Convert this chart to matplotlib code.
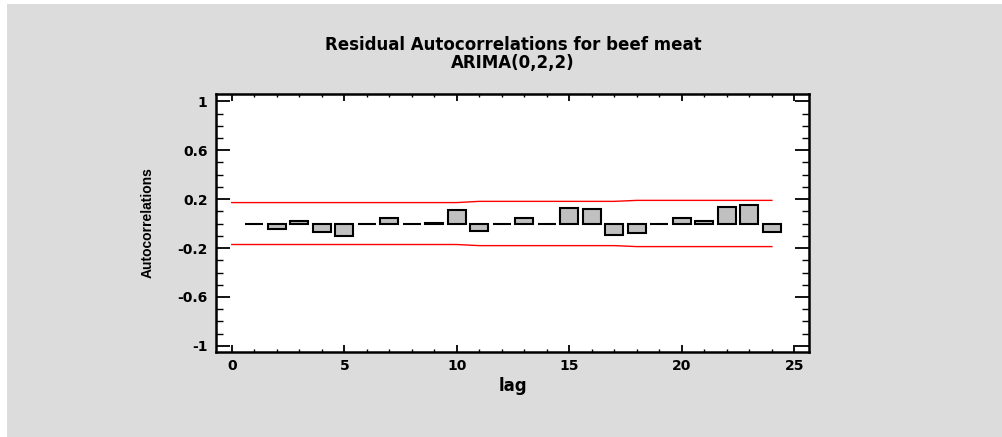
import matplotlib
matplotlib.use("Agg")
import matplotlib.pyplot as plt
from matplotlib.ticker import MultipleLocator, FixedLocator, FixedFormatter
from matplotlib.patches import Rectangle

plt.rcParams['font.family'] = ['DejaVu Sans']

lags = list(range(1, 25))
acf = [-0.003, -0.044, 0.025, -0.068, -0.104, -0.003, 0.044, -0.003, 0.008, 0.112,
       -0.063, -0.003, 0.043, -0.003, 0.128, 0.117, -0.096, -0.079, -0.003, 0.049,
       0.022, 0.137, 0.156, -0.071]
limit_lags = list(range(0, 25))
upper = [0.172] * 11 + [0.182] * 7 + [0.190] * 7
lower = [-0.171] * 11 + [-0.180] * 7 + [-0.188] * 7

ytick_vals = [-1, -0.6, -0.2, 0.2, 0.6, 1]
ytick_labels = ['-1', '-0.6', '-0.2', '0.2', '0.6', '1']
xtick_vals = [0, 5, 10, 15, 20, 25]

fig = plt.figure(figsize=(10.03, 4.37), dpi=100)
fig.patch.set_facecolor('white')
fig.patches.append(Rectangle((7 / 1003, 0), 996 / 1003, 433 / 437,
                             transform=fig.transFigure, facecolor='#DCDCDC',
                             edgecolor='none', zorder=-10))

ax = fig.add_axes([216 / 1003, 1 - 352 / 437, (809 - 216) / 1003, (352 - 94) / 437])
ax.set_facecolor('white')

ax.bar(lags, acf, width=0.8, color='#C0C0C0', edgecolor='black', linewidth=1.5, zorder=3)
ax.plot(limit_lags, upper, color='red', linewidth=1.0, zorder=2)
ax.plot(limit_lags, lower, color='red', linewidth=1.0, zorder=2)

ax.set_xlim(-0.7, 25.65)
ax.set_ylim(-1.05, 1.06)

ax.xaxis.set_major_locator(FixedLocator(xtick_vals))
ax.xaxis.set_minor_locator(MultipleLocator(1))
ax.yaxis.set_major_locator(FixedLocator(ytick_vals))
ax.yaxis.set_major_formatter(FixedFormatter(ytick_labels))
ax.yaxis.set_minor_locator(MultipleLocator(0.1))

ax.tick_params(axis='x', which='major', direction='in', length=5, width=1.3,
               top=True, bottom=True, labelsize=10, pad=5)
ax.tick_params(axis='x', which='minor', direction='in', length=2.5, width=1.0,
               top=True, bottom=True)
ax.tick_params(axis='y', which='major', direction='in', length=10, width=1.3,
               left=True, right=True, labelsize=10, pad=6)
ax.tick_params(axis='y', which='minor', direction='in', length=5, width=1.0,
               left=True, right=True)
for lab in ax.get_xticklabels() + ax.get_yticklabels():
    lab.set_fontweight('bold')
for s in ax.spines.values():
    s.set_linewidth(1.8)

ax.set_xlabel('lag', fontsize=12, fontweight='bold', labelpad=3)
ax.set_ylabel('Autocorrelations', fontsize=10, fontweight='bold', labelpad=16,
              family=['Liberation Sans', 'DejaVu Sans'])

fig.text(513 / 1003, 1 - 45 / 437, 'Residual Autocorrelations for beef meat',
         ha='center', va='center', fontsize=12, fontweight='bold')
fig.text(513 / 1003, 1 - 63 / 437, 'ARIMA(0,2,2)',
         ha='center', va='center', fontsize=12, fontweight='bold')

fig.savefig('out.png', dpi=100, facecolor=fig.get_facecolor())
